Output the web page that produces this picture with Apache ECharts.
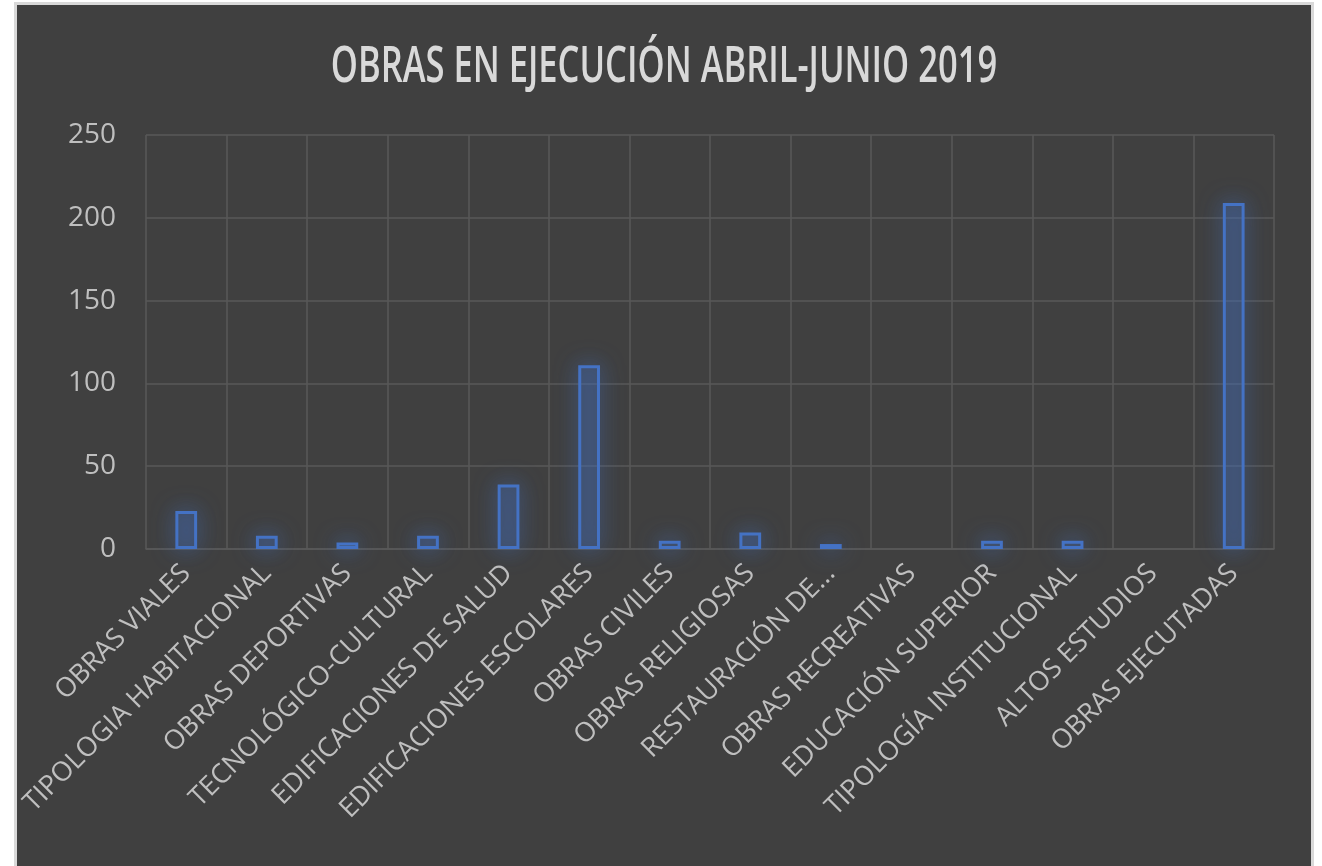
<!DOCTYPE html>
<html>
<head>
<meta charset="utf-8">
<script src="https://cdn.jsdelivr.net/npm/echarts@6/dist/echarts.min.js"></script>
<style>
  html, body { margin: 0; padding: 0; background: #ffffff; }
  #frame {
    position: absolute; left: 14px; top: 2px; width: 1294px; height: 864px;
    border: 3px solid #d9d9d9; border-bottom: none; background: #404040;
  }
  #chart { width: 1294px; height: 864px; }
</style>
</head>
<body>
<div id="frame"><div id="chart"></div></div>
<script>
// datos de la gráfica
var categorias = ['OBRAS VIALES', 'TIPOLOGIA HABITACIONAL', 'OBRAS DEPORTIVAS', 'TECNOLÓGICO-CULTURAL',
  'EDIFICACIONES DE SALUD', 'EDIFICACIONES ESCOLARES', 'OBRAS CIVILES', 'OBRAS RELIGIOSAS',
  'RESTAURACIÓN DE...', 'OBRAS RECREATIVAS', 'EDUCACIÓN SUPERIOR', 'TIPOLOGÍA INSTITUCIONAL',
  'ALTOS ESTUDIOS', 'OBRAS EJECUTADAS'];
var obras = [23, 8, 4, 8, 39, 111, 5, 10, 3, 0, 5, 5, 0, 209];
var titulo = 'OBRAS EN EJECUCIÓN ABRIL-JUNIO 2019';

var chart = echarts.init(document.getElementById('chart'));

var barData = obras.map(function (v) {
  // una barra en cero no se dibuja
  return v === 0 ? { value: v, itemStyle: { borderWidth: 0, shadowBlur: 0, color: 'transparent' } } : v;
});

var option = {
  backgroundColor: '#404040',
  graphic: [{
    type: 'text',
    left: 'center',
    top: 38,
    scaleX: 0.69,
    style: {
      text: titulo,
      fill: '#d9d9d9',
      font: '600 50px "Open Sans", sans-serif'
    }
  }],
  grid: { left: 125, right: 37, top: 130, bottom: 320 },
  xAxis: {
    type: 'category',
    data: categorias,
    axisLine: { show: true, lineStyle: { color: '#595959', width: 1.5 } },
    axisTick: { show: false },
    splitLine: { show: true, lineStyle: { color: '#595959', width: 1.5 } },
    axisLabel: {
      interval: 0,
      rotate: 45,
      color: '#bfbfbf',
      fontSize: 27,
      fontFamily: '"Open Sans", sans-serif',
      margin: 20
    }
  },
  yAxis: {
    type: 'value',
    min: 0,
    max: 250,
    interval: 50,
    axisLine: { show: false },
    axisTick: { show: false },
    splitLine: { lineStyle: { color: '#595959', width: 1.5 } },
    axisLabel: {
      color: '#bfbfbf',
      fontSize: 28,
      fontFamily: '"Open Sans", sans-serif',
      margin: 30
    }
  },
  series: [{
    type: 'bar',
    data: barData,
    barWidth: '27%',
    itemStyle: {
      color: 'rgba(68,114,196,0.22)',
      borderColor: '#4472c4',
      borderWidth: 3,
      shadowBlur: 22,
      shadowColor: 'rgba(68,114,196,0.95)'
    }
  }]
};
chart.setOption(option);
</script>
</body>
</html>
